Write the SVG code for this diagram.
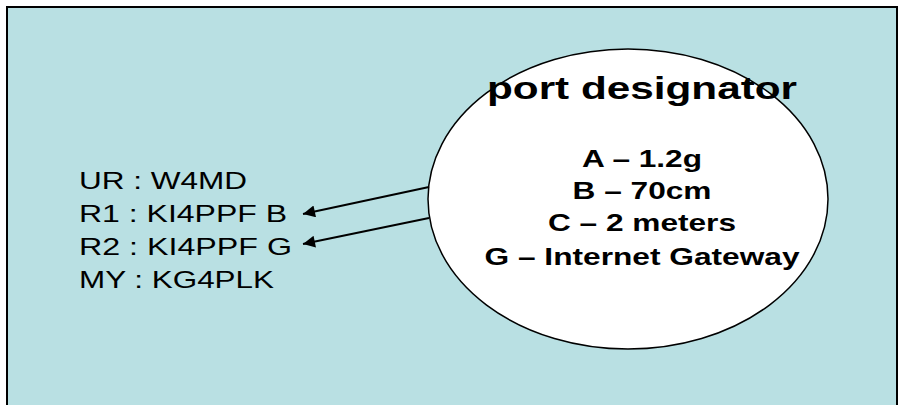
<svg xmlns="http://www.w3.org/2000/svg" width="905" height="405" viewBox="0 0 905 405">
  <defs>
    <style>
      .bg { fill: #b9e0e3; stroke: #000; stroke-width: 2; }
      .node { fill: #fff; stroke: #000; stroke-width: 1.5; }
      .title { font-family: "Liberation Sans", Arial, sans-serif; font-weight: bold; font-size: 32px; fill: #000; text-anchor: middle; }
      .port { font-family: "Liberation Sans", Arial, sans-serif; font-weight: bold; font-size: 24px; fill: #000; text-anchor: middle; }
      .call { font-family: "Liberation Sans", Arial, sans-serif; font-size: 24px; fill: #000; }
      .conn { stroke: #000; stroke-width: 2; fill: none; marker-end: url(#arrow); }
    </style>
    <marker id="arrow" viewBox="0 0 10 10" refX="10" refY="5" markerWidth="7.5" markerHeight="6" markerUnits="strokeWidth" orient="auto">
      <path d="M0,0 L10,5 L0,10 z" fill="#000"/>
    </marker>
  </defs>
  <rect class="bg" x="7" y="7" width="890" height="410"/>
  <g id="callsigns">
    <text class="call" x="79" y="189" textLength="168" lengthAdjust="spacingAndGlyphs">UR : W4MD</text>
    <text class="call" x="79" y="222" textLength="208" lengthAdjust="spacingAndGlyphs">R1 : KI4PPF B</text>
    <text class="call" x="79" y="255" textLength="213" lengthAdjust="spacingAndGlyphs">R2 : KI4PPF G</text>
    <text class="call" x="79" y="288" textLength="195" lengthAdjust="spacingAndGlyphs">MY : KG4PLK</text>
  </g>
  <g id="port-designator">
    <ellipse class="node" cx="628" cy="199" rx="200" ry="150"/>
    <text class="title" x="642" y="99" textLength="310" lengthAdjust="spacingAndGlyphs">port designator</text>
    <text class="port" x="642" y="167" textLength="120" lengthAdjust="spacingAndGlyphs">A – 1.2g</text>
    <text class="port" x="642" y="199" textLength="139" lengthAdjust="spacingAndGlyphs">B – 70cm</text>
    <text class="port" x="642" y="231" textLength="188" lengthAdjust="spacingAndGlyphs">C – 2 meters</text>
    <text class="port" x="642" y="265" textLength="315" lengthAdjust="spacingAndGlyphs">G – Internet Gateway</text>
  </g>
  <g id="connectors">
    <line class="conn" x1="429" y1="187" x2="303" y2="214"/>
    <line class="conn" x1="429" y1="218" x2="303" y2="244"/>
  </g>
</svg>
